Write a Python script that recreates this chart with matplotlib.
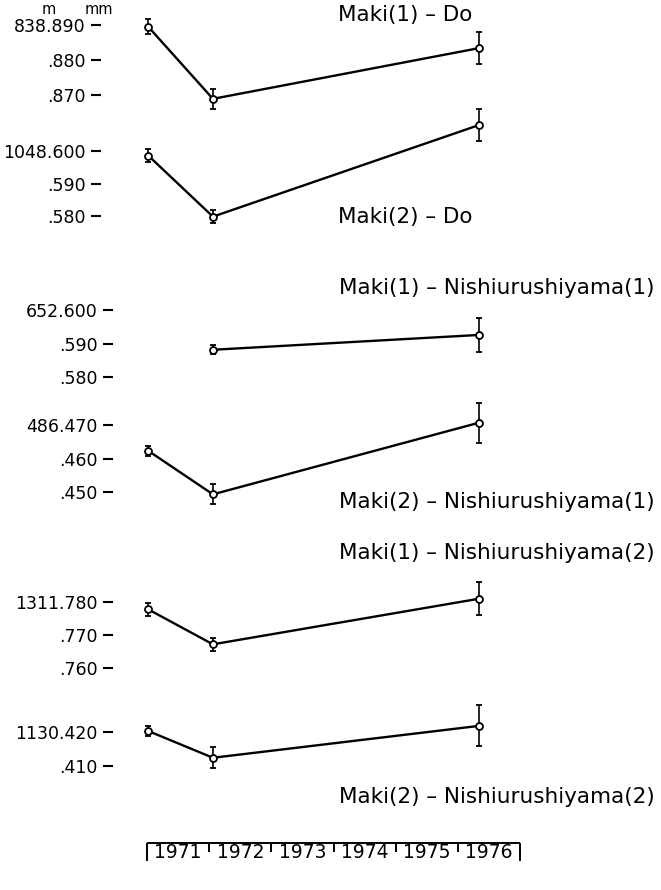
import numpy as np
import matplotlib
matplotlib.use("Agg")
import matplotlib.pyplot as plt
from matplotlib.ticker import FixedLocator, FixedFormatter

W, H = 661, 890

# survey epochs (decimal years)
years = [1971.02, 1972.06, 1976.34]
year_boxes = [1971, 1972, 1973, 1974, 1975, 1976]

names = ["Maki(1) – Do", "Maki(2) – Do",
         "Maki(1) – Nishiurushiyama(1)", "Maki(2) – Nishiurushiyama(1)",
         "Maki(1) – Nishiurushiyama(2)", "Maki(2) – Nishiurushiyama(2)"]

# distances in metres, error bars in metres
do1 = [838.8895, 838.8689, 838.8834]
do1_err = [0.0021, 0.0028, 0.0046]
do2 = [1048.5986, 1048.5798, 1048.6080]
do2_err = [0.0020, 0.0020, 0.0050]
n11 = [652.5882, 652.5926]          # no 1971 value
n11_err = [0.0014, 0.0050]
n21 = [486.4623, 486.4493, 486.4707]
n21_err = [0.0015, 0.0030, 0.0060]
n12 = [1311.7777, 1311.7672, 1311.7809]
n12_err = [0.0020, 0.0020, 0.0050]
n22 = [1130.4202, 1130.4124, 1130.4217]
n22_err = [0.0015, 0.0030, 0.0060]

ticks = [[838.890, 838.880, 838.870], [1048.600, 1048.590, 1048.580],
         [652.600, 652.590, 652.580], [486.470, 486.460, 486.450],
         [1311.780, 1311.770, 1311.760], [1130.420, 1130.410]]
tick_labels = [["838.890", ".880", ".870"], ["1048.600", ".590", ".580"],
               ["652.600", ".590", ".580"], ["486.470", ".460", ".450"],
               ["1311.780", ".770", ".760"], ["1130.420", ".410"]]

series = [(years, do1, do1_err), (years, do2, do2_err), (years[1:], n11, n11_err),
          (years, n21, n21_err), (years, n12, n12_err), (years, n22, n22_err)]

# layout in pixels: first tick px, px per 0.001 m, band top, band bottom, spine x, label x, label y
layout = [(25, 3.5, 5, 118, 101, 338, 15),
          (151, 3.25, 118, 240, 101, 338, 217),
          (310, 3.37, 295, 400, 113, 339, 288),
          (425, 3.35, 400, 525, 113, 339, 502),
          (601.7, 3.33, 575, 695, 113, 339, 553),
          (731.7, 3.43, 700, 785, 113, 339, 797)]

X0, PPY = 147, 62.2   # px of 1971.0, px per year


def px2yr(px):
    return 1971 + (px - X0) / PPY


fig = plt.figure(figsize=(W / 100, H / 100), dpi=100)

for i in range(6):
    p0, k, top, bot, sx, lx, ly = layout[i]
    ax = fig.add_axes([sx / W, 1 - bot / H, (W - sx) / W, (bot - top) / H])
    v0 = ticks[i][0]
    ax.set_xlim(px2yr(sx), px2yr(W))
    ax.set_ylim(v0 - (bot - p0) / k * 0.001, v0 + (p0 - top) / k * 0.001)
    x, y, e = series[i]
    ax.errorbar(x, y, yerr=e, fmt='-o', color='black', lw=1.7, ms=5,
                mfc='white', mec='black', mew=1.3, elinewidth=1.2,
                capsize=2.5, capthick=1.2, clip_on=False)
    for s in ax.spines.values():
        s.set_visible(False)
    ax.set_xticks([])
    ax.yaxis.set_major_locator(FixedLocator(ticks[i]))
    ax.yaxis.set_major_formatter(FixedFormatter(tick_labels[i]))
    ax.tick_params(axis='y', direction='out', length=7, width=1.5, pad=4,
                   labelsize=12.5)
    ax.patch.set_visible(False)
    fig.text(lx / W, 1 - ly / H, names[i], fontsize=15.5, ha='left', va='center')

# unit header
fig.text(49 / W, 1 - 9 / H, "m", fontsize=10.5, ha='center', va='center')
fig.text(99 / W, 1 - 9 / H, "mm", fontsize=10.5, ha='center', va='center')

# year scale at the bottom
ax = fig.add_axes([0, 0, 1, 60 / H])
ax.set_xlim(px2yr(0), px2yr(W))
ax.set_ylim(60, 0)
ax.axis('off')
ax.hlines(13, year_boxes[0], year_boxes[-1] + 1, color='black', lw=1.4)
for j, yr in enumerate(year_boxes + [year_boxes[-1] + 1]):
    end = 31 if j in (0, len(year_boxes)) else 22
    ax.vlines(yr, 13, end, color='black', lw=1.4)
for yr in year_boxes:
    ax.text(yr + 0.5, 23, str(yr), fontsize=13.5, ha='center', va='center')

fig.savefig("out.png", dpi=100)
